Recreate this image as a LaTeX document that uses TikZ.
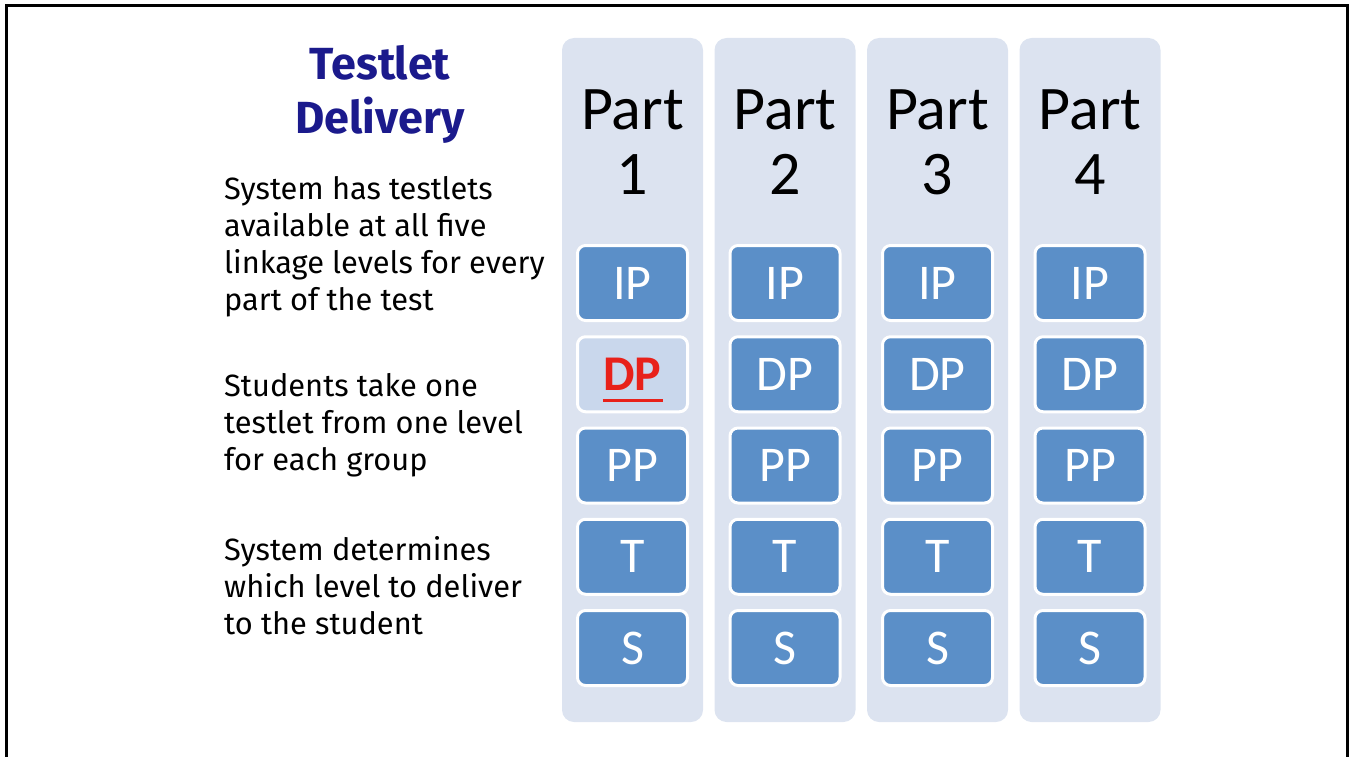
\documentclass[tikz,border=0pt]{standalone}
\usepackage{fontspec}
\usepackage{tikz}
\usetikzlibrary{positioning}
\newfontfamily\partfont{Carlito}
\newfontfamily\notefont{Fira Sans}
\definecolor{colfill}{HTML}{DCE3F0}
\definecolor{lvlfill}{HTML}{5B8FC8}
\definecolor{selfill}{HTML}{C9D7EC}
\definecolor{selred}{HTML}{E8211A}
\definecolor{navy}{HTML}{1B1A8C}

\begin{document}
\begin{tikzpicture}[
    x=1pt, y=-1pt,
    col/.style={fill=colfill, minimum width=141pt, minimum height=684pt, rounded corners=12pt, inner sep=0pt},
    parttxt/.style={font=\partfont\fontsize{62}{65}\selectfont, align=center, inner sep=0pt},
    lvl/.style={draw=white, line width=3pt, fill=lvlfill, minimum width=110pt, minimum height=75pt, rounded corners=8pt, inner sep=0pt, text=white, font=\partfont\fontsize{50}{50}\selectfont},
    lvlsel/.style={lvl, fill=selfill, text=selred, font=\partfont\bfseries\fontsize{50}{50}\selectfont},
    note/.style={font=\notefont\fontsize{30.8}{37}\selectfont, align=left, anchor=north west, inner sep=0pt}
]
    \useasboundingbox (0,0) rectangle (1351,757);
    % slide frame
    \draw [line width=3pt] (6,760) -- (6,6) -- (1347,6) -- (1347,760);

    % left side text
    \node (title) [font=\notefont\bfseries\fontsize{45}{54}\selectfont, text=navy, align=center, anchor=north, inner sep=0pt] at (380,45) {Testlet\\Delivery};
    \node (note1) [note] at (224,176) {System has testlets\\available at all five\\linkage levels for every\\part of the test};
    \node (note2) [note] at (224,373) {Students take one\\testlet from one level\\for each group};
    \node (note3) [note] at (224,536) {System determines\\which level to deliver\\to the student};

    % parts and levels
    \foreach \i in {1,...,4} {
        \node (col\i) [col] at ({632.5+152.5*(\i-1)}, 380) {};
        \node (part\i) [parttxt, anchor=north] at ([yshift=-52pt]col\i.north) {Part\\\i};
        \foreach \lvl/\k in {IP/0,PP/2,T/3,S/4}
            \node (\lvl\i) [lvl] at ({632.5+152.5*(\i-1)}, {283+91.25*\k}) {\lvl};
    }
    \foreach \i in {2,3,4}
        \node (DP\i) [lvl] at ({632.5+152.5*(\i-1)}, 374.25) {DP};
    \node (DP1) [lvlsel] at (632.5, 374.25) {DP};
    \draw [selred, line width=3pt] ([xshift=-30pt,yshift=-10pt]DP1.base) -- ([xshift=30pt,yshift=-10pt]DP1.base);
\end{tikzpicture}
\end{document}
